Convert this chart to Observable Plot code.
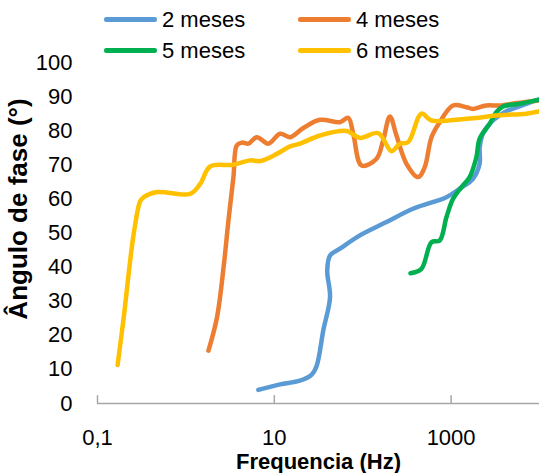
<!DOCTYPE html>
<html><head><meta charset="utf-8">
<script src="https://cdn.jsdelivr.net/npm/d3@7"></script>
<script src="https://cdn.jsdelivr.net/npm/@observablehq/plot@0.6"></script>
<style>
body{margin:0;background:#fff;font-family:"Liberation Sans",Arial,sans-serif;}
#wrap{position:relative;width:539px;height:473px;overflow:hidden;}
#legend{position:relative;height:56px;z-index:2;}
.item{position:absolute;display:flex;align-items:center;font-size:22px;line-height:25px;color:#000;white-space:nowrap;}
.swatch{width:53px;height:4.5px;border-radius:2.25px;margin-right:5px;}
#chart{position:relative;z-index:1;}
</style></head><body>
<div id="wrap"><div id="legend"></div><div id="chart"></div></div>
<script>
// ---- data ----
const seriesNames = ["2 meses", "4 meses", "5 meses", "6 meses"];
const seriesColors = ["#5B9BD5", "#ED7D31", "#00B050", "#FFC000"];

const freq2 = [6.6, 11.6, 19.5, 26.5, 30.2, 35.8, 42.7, 39.7, 42.7, 55.3, 93, 186, 371, 885, 1250, 1767, 2100, 2110, 2290, 2970, 4210, 5940, 10000];
const phase2 = [4.0, 5.6, 6.7, 8.5, 11.1, 21.4, 31.2, 39.0, 43.4, 45.4, 49.3, 53.2, 57.1, 60.5, 63.0, 65.9, 70.3, 75.2, 79.1, 83.0, 85.7, 87.1, 89.3];

const freq4 = [1.80, 2.25, 2.67, 3.03, 3.45, 3.77, 4.30, 5.10, 6.34, 8.57, 11.6, 15.1, 21.3, 32.9, 55.3, 68.6, 78.2, 97.2, 143.5, 170, 203, 241, 313, 423, 503, 600, 743, 1052, 1489, 1767, 2500, 3540, 5460, 10000];
const phase4 = [15.5, 25.3, 40.0, 53.7, 66.4, 75.7, 76.5, 76.2, 78.1, 76.2, 79.1, 78.1, 80.8, 83.2, 82.5, 83.8, 79.1, 69.8, 71.8, 77.1, 84.2, 78.6, 70.3, 66.4, 69.3, 78.1, 82.5, 87.4, 86.9, 86.4, 87.4, 87.4, 88.1, 88.9];

const freq5 = [347, 462, 600, 743, 885, 1050, 1306, 1622, 1931, 2100, 2730, 3245, 3855, 5940, 10000];
const phase5 = [38.2, 39.5, 47.3, 47.8, 54.6, 60.0, 63.4, 66.4, 72.2, 77.6, 82.0, 85.4, 87.1, 87.9, 89.1];

const freq6 = [0.169, 0.198, 0.257, 0.306, 0.333, 0.472, 1.12, 1.45, 1.88, 3.45, 5.33, 6.92, 10.7, 15.1, 19.5, 32.9, 65.8, 93, 150, 212, 263, 326, 462, 600, 1489, 3540, 7080, 10000];
const phase6 = [11.3, 25.3, 49.8, 59.5, 60.5, 62.0, 61.5, 64.4, 69.5, 70.0, 71.3, 71.1, 73.2, 75.4, 76.2, 78.6, 79.9, 77.9, 79.3, 74.0, 76.2, 76.6, 85.0, 83.0, 83.5, 84.5, 85.0, 85.7];

const xTicks = [0.1, 10, 1000];
const xTickLabels = ["0,1", "10", "1000"];
const yTicks = [0, 10, 20, 30, 40, 50, 60, 70, 80, 90, 100];
const xTitle = "Frequencia (Hz)";
const yTitle = "Ângulo de fase (°)";

// ---- table ----
const seriesData = [[freq2, phase2], [freq4, phase4], [freq5, phase5], [freq6, phase6]];
const rows = [];
seriesData.forEach(([f, p], s) => f.forEach((v, i) => rows.push({serie: seriesNames[s], freq: v, phase: p[i]})));

// ---- legend ----
const legend = document.getElementById("legend");
const legendPos = [[104, 7], [298, 7], [104, 38], [298, 38]];
seriesNames.forEach((n, i) => {
  const it = document.createElement("div");
  it.className = "item";
  it.style.left = legendPos[i][0] + "px";
  it.style.top = legendPos[i][1] + "px";
  const sw = document.createElement("span");
  sw.className = "swatch";
  sw.style.background = seriesColors[i];
  const tx = document.createElement("span");
  tx.textContent = n;
  it.append(sw, tx);
  legend.append(it);
});

// ---- chart ----
const chart = Plot.plot({
  width: 539,
  height: 417,
  marginLeft: 97,
  marginRight: 0,
  marginTop: 6,
  marginBottom: 70,
  style: {fontFamily: "'Liberation Sans', Arial, sans-serif", fontSize: "22px", background: "transparent", overflow: "visible", color: "#000"},
  x: {type: "log", domain: [0.1, 10000]},
  y: {domain: [0, 100]},
  color: {domain: seriesNames, range: seriesColors},
  marks: [
    Plot.axisY({ticks: yTicks, tickSize: 0, tickPadding: 25, label: null, fontSize: 22}),
    Plot.axisX({ticks: xTicks, tickFormat: d => xTickLabels[xTicks.indexOf(d)], tickSize: 0, tickPadding: 26, label: null, fontSize: 22}),
    Plot.ruleY([0], {stroke: "#a6a6a6", strokeWidth: 1.5}),
    Plot.ruleX(xTicks, {y1: 0, y2: 2.3, stroke: "#a6a6a6", strokeWidth: 1.5}),
    Plot.line(rows, {x: "freq", y: "phase", z: "serie", stroke: "serie", strokeWidth: 4.5, curve: "catmull-rom", strokeLinecap: "round", strokeLinejoin: "round"}),
    Plot.text([xTitle], {text: d => d, frameAnchor: "bottom", lineAnchor: "middle", textAnchor: "middle", dy: 58, fontWeight: "bold", fontSize: 22, fill: "#000"}),
    Plot.text([yTitle], {text: d => d, frameAnchor: "left", textAnchor: "middle", lineAnchor: "middle", rotate: -90, dx: -79, dy: -24, fontWeight: "bold", fontSize: 26, fill: "#000"})
  ]
});
document.getElementById("chart").append(chart);
</script>
</body></html>
